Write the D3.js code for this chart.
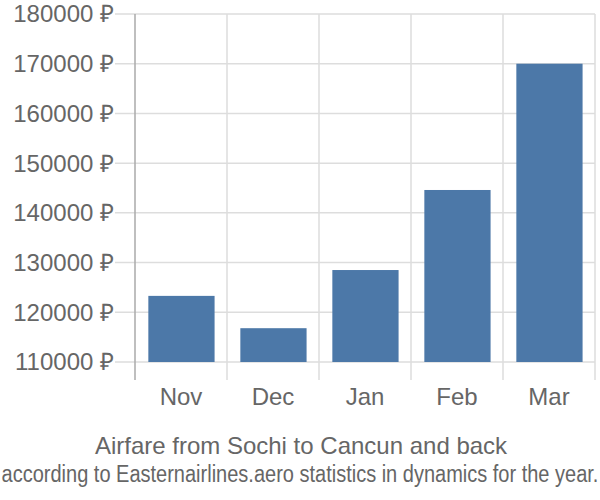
<!DOCTYPE html>
<html><head><meta charset="utf-8">
<script src="https://cdn.jsdelivr.net/npm/d3@7"></script>
<style>body{margin:0;background:#fff;}text{font-family:"Liberation Sans",Arial,sans-serif;}</style>
</head><body>
<svg id="c" width="600" height="500"></svg>
<script>
const categories = ["Nov", "Dec", "Jan", "Feb", "Mar"];
const values = [123300, 116800, 128500, 144600, 170000];
const yTicks = [110000, 120000, 130000, 140000, 150000, 160000, 170000, 180000];
const title = "Airfare from Sochi to Cancun and back";
const subtitle = "according to Easternairlines.aero statistics in dynamics for the year.";

(function () {
const svg = d3.select("#c");
const pLeft = 135, pRight = 595, pTop = 14, baseY = 362, pBottom = 380;
const x = d3.scaleBand().domain(categories).range([pLeft, pRight]).padding(0);
const y = d3.scaleLinear().domain([110000, 180000]).range([baseY, pTop]);

svg.append("g").selectAll("line").data(yTicks).join("line")
  .attr("x1", 115).attr("x2", pRight)
  .attr("y1", d => y(d)).attr("y2", d => y(d))
  .attr("stroke", "#dddddd").attr("stroke-width", 1.5);
const vx = categories.map(c => x(c) + x.bandwidth());
svg.append("g").selectAll("line").data(vx).join("line")
  .attr("x1", d => d).attr("x2", d => d)
  .attr("y1", pTop).attr("y2", pBottom)
  .attr("stroke", "#dddddd").attr("stroke-width", 1.5);
svg.append("line").attr("x1", pLeft).attr("x2", pLeft).attr("y1", pTop).attr("y2", pBottom)
  .attr("stroke", "#aaaaaa").attr("stroke-width", 1.5);

svg.append("g").selectAll("text").data(yTicks).join("text")
  .attr("x", 114).attr("y", d => y(d)).attr("dy", "0.35em")
  .attr("text-anchor", "end").attr("fill", "#666").attr("font-size", 24)
  .text(d => d + " \u20BD");

const bw = x.bandwidth();
svg.append("g").selectAll("rect").data(values).join("rect")
  .attr("x", (d, i) => x(categories[i]) + bw * 0.145)
  .attr("width", bw * 0.72)
  .attr("y", d => y(d)).attr("height", d => baseY - y(d))
  .attr("fill", "#4c78a8");

svg.append("g").selectAll("text").data(categories).join("text")
  .attr("x", d => x(d) + bw / 2).attr("y", 405)
  .attr("text-anchor", "middle").attr("fill", "#666").attr("font-size", 24)
  .text(d => d);

svg.append("text").attr("x", 301).attr("y", 454)
  .attr("text-anchor", "middle").attr("fill", "#666").attr("font-size", 24).text(title);
svg.append("text").attr("transform", "translate(300,482) scale(1,1.15)")
  .attr("text-anchor", "middle").attr("fill", "#666").attr("font-size", 20)
  .text(subtitle);
})();
</script>
</body></html>
